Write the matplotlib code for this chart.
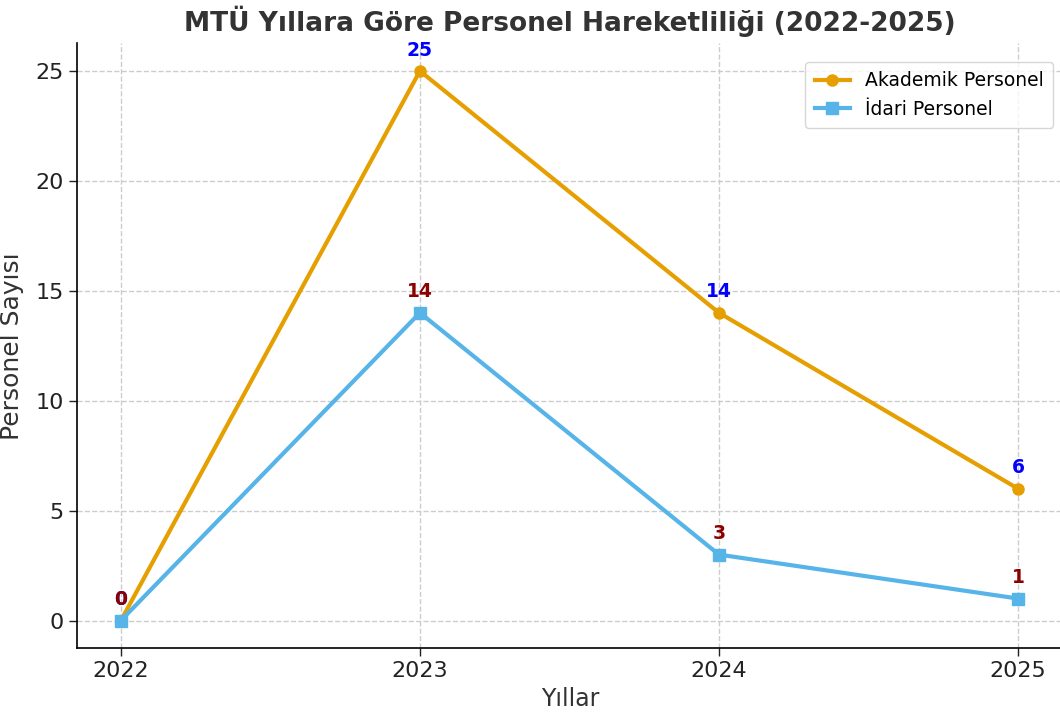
import matplotlib.pyplot as plt

# data
years = [2022, 2023, 2024, 2025]
akademik = [0, 25, 14, 6]
idari = [0, 14, 3, 1]

title = "MTÜ Yıllara Göre Personel Hareketliliği (2022-2025)"
orange = "#E69F00"
blue = "#56B4E9"

fig = plt.figure(figsize=(10.6, 7.15), dpi=100)
ax = fig.add_axes([0.0726, 0.0937, 0.930, 0.8455])

ax.plot(years, akademik, color=orange, marker="o", markersize=8, linewidth=3,
        label="Akademik Personel")
ax.plot(years, idari, color=blue, marker="s", markersize=8, linewidth=3,
        label="İdari Personel")

# value labels above the points
for x, y in zip(years, akademik):
    ax.annotate(str(y), (x, y), textcoords="offset points", xytext=(0, 11),
                ha="center", fontsize=13.5, fontweight="bold", color="blue")
for x, y in zip(years, idari):
    ax.annotate(str(y), (x, y), textcoords="offset points", xytext=(0, 11),
                ha="center", fontsize=13.5, fontweight="bold", color="darkred")

ax.set_xticks(years)
ax.set_xlim(2021.853, 2025.15)
ax.set_ylim(-1.25, 26.25)
ax.set_yticks([0, 5, 10, 15, 20, 25])
ax.tick_params(labelsize=16, colors="#222222", length=6, width=1)

ax.set_title(title, fontsize=19, fontweight="bold", color="#333333", pad=9)
ax.set_xlabel("Yıllar", fontsize=17, color="#333333", labelpad=4)
ax.set_ylabel("Personel Sayısı", fontsize=18, color="#333333", labelpad=8)

ax.grid(True, linestyle="--", color="#cccccc", linewidth=1)
ax.spines["top"].set_visible(False)
ax.spines["right"].set_visible(False)
ax.spines["left"].set_linewidth(1.2)
ax.spines["bottom"].set_linewidth(1.2)

leg = ax.legend(loc="upper right", bbox_to_anchor=(1.0, 0.985), fontsize=13.5,
                frameon=True, borderpad=0.5, handlelength=1.9)
leg.get_frame().set_edgecolor("#cccccc")

fig.savefig("out.png", dpi=100)
